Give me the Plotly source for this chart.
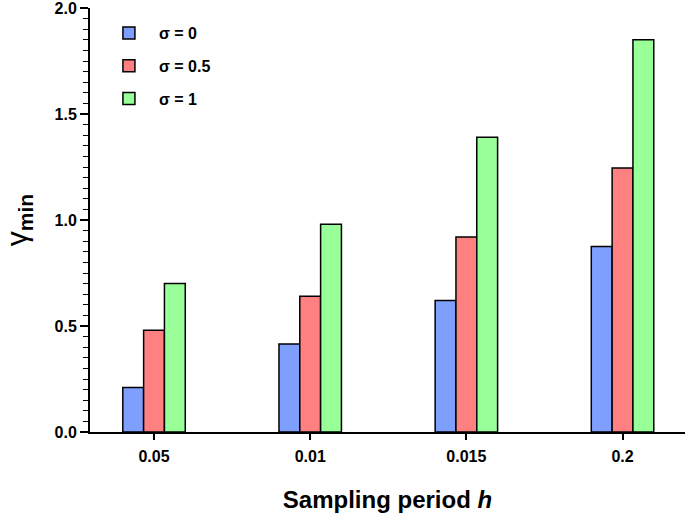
import plotly.graph_objects as go

periods = ["0.05", "0.01", "0.015", "0.2"]
sigma_names = ["σ = 0", "σ = 0.5", "σ = 1"]
gamma_s0 = [0.21, 0.415, 0.62, 0.875]
gamma_s05 = [0.48, 0.64, 0.92, 1.245]
gamma_s1 = [0.70, 0.98, 1.39, 1.85]
colors = ["#7f9fff", "#ff8080", "#99ff99"]

fig = go.Figure()
for i, (name, vals) in enumerate(zip(sigma_names, [gamma_s0, gamma_s05, gamma_s1])):
    fig.add_trace(go.Bar(
        x=periods, y=vals, name="<b>%s</b>" % name, legendgroup=str(i),
        marker=dict(color=colors[i], line=dict(color="black", width=1.5)),
    ))

fig.update_layout(
    width=685, height=513,
    margin=dict(l=90, r=0, t=8, b=81, autoexpand=False),
    barmode="group", bargap=0.6, bargroupgap=0,
    plot_bgcolor="white", paper_bgcolor="white",
    font=dict(family="Liberation Sans, Arial", color="black"),
    legend=dict(x=0.015, y=0.981, xanchor="left", yanchor="top",
                font=dict(size=16), tracegroupgap=9, bgcolor="rgba(0,0,0,0)",
                itemwidth=50),
    xaxis=dict(
        type="category", range=[-0.41, 3.4], automargin=False,
        showline=True, linecolor="black", linewidth=2,
        ticks="outside", ticklen=6, tickwidth=2, tickcolor="black",
        tickfont=dict(size=16), ticklabelstandoff=3,
        tickvals=periods, ticktext=["<b>%s</b>" % p for p in periods],
        title=dict(text="<b>Sampling period <i>h</i></b>", font=dict(size=24), standoff=33),
    ),
    yaxis=dict(
        range=[0, 2.0], dtick=0.5, tickformat=".1f", automargin=False,
        ticklabeloverflow="allow",
        showline=True, linecolor="black", linewidth=2, showgrid=False, zeroline=False,
        ticks="outside", ticklen=8, tickwidth=2, tickcolor="black",
        tickfont=dict(size=16, weight="bold"),
        minor=dict(dtick=0.05, ticks="outside", ticklen=5, tickwidth=1, tickcolor="black", showgrid=False),
        title=dict(text="γ<sub><b>min</b></sub>", font=dict(size=30), standoff=36),
    ),
)

fig.write_html("out.html", config={"displayModeBar": False},
               post_script="document.body.style.margin='0px';")
